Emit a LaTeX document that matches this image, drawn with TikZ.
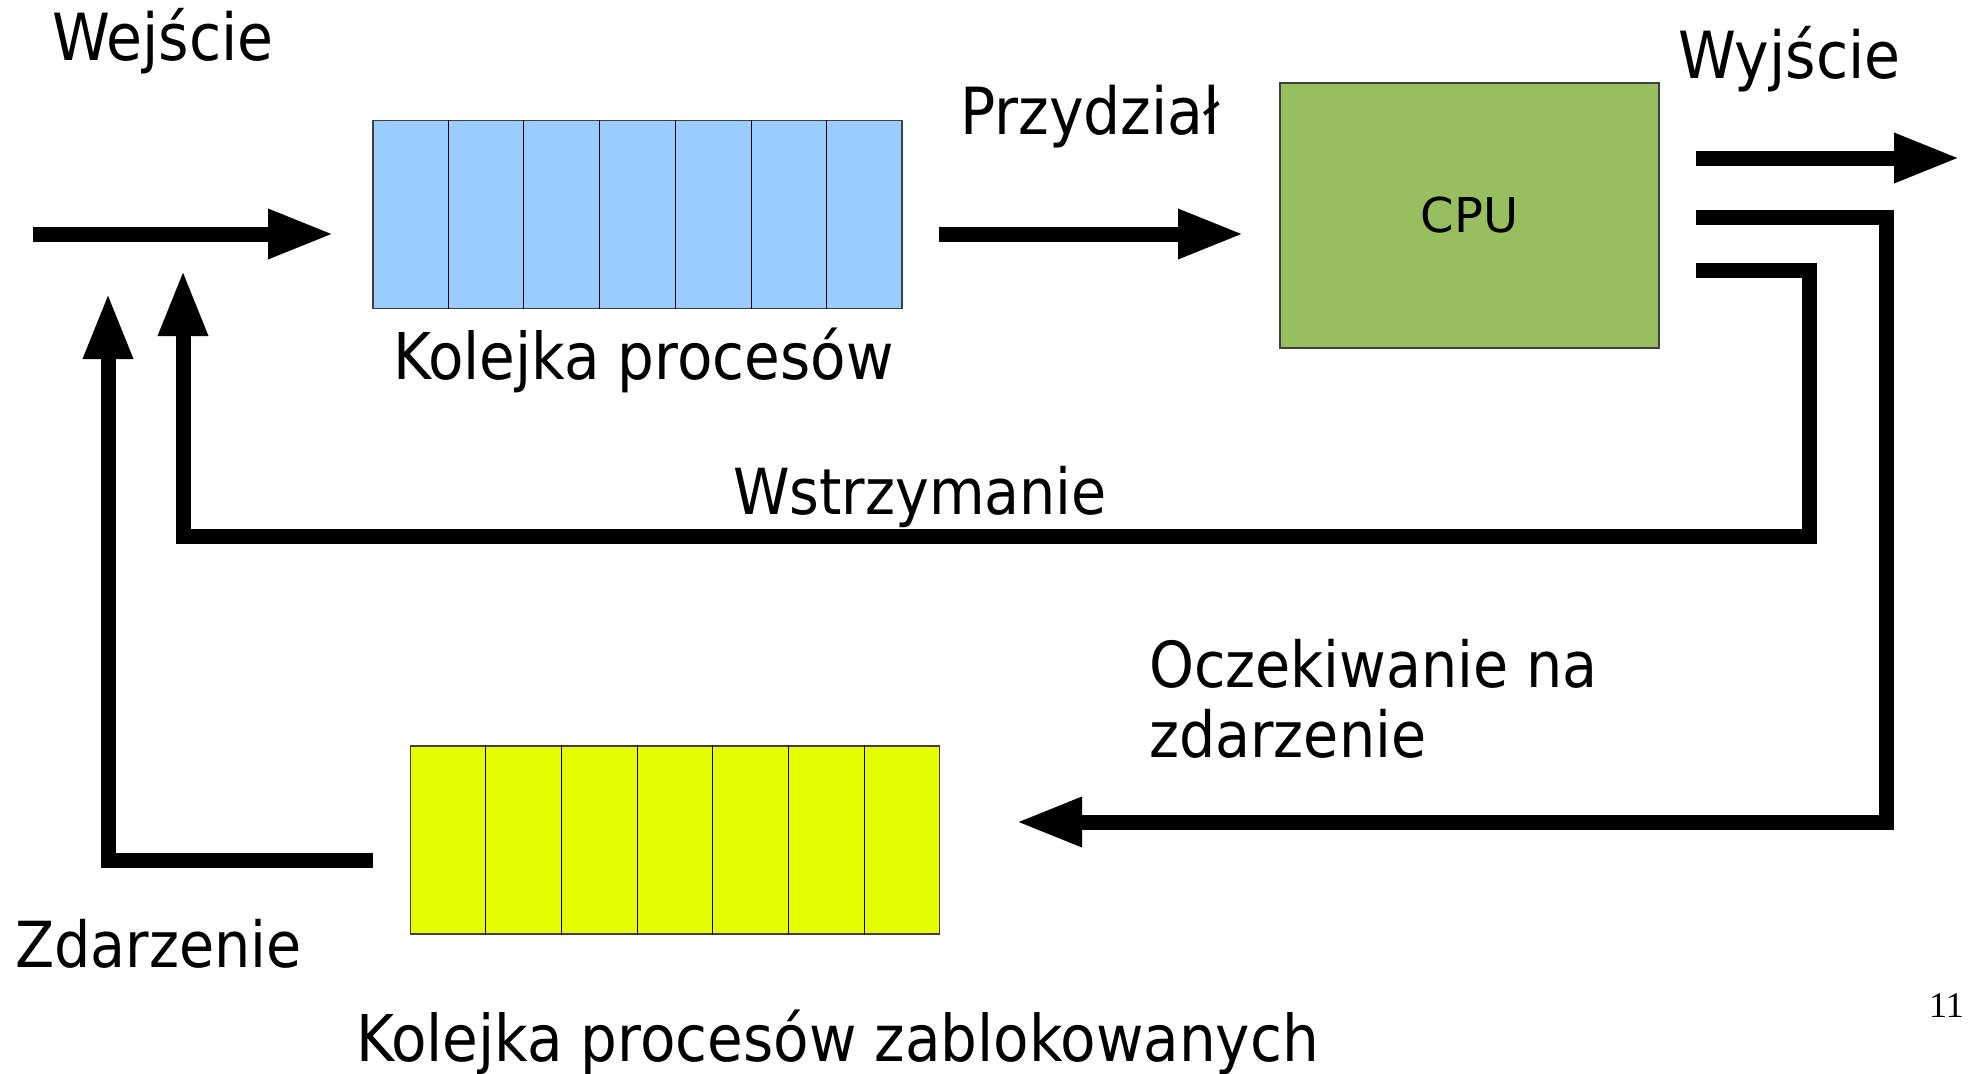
\documentclass[tikz,border=0pt]{standalone}
\usepackage{fontspec}
\setmainfont{DejaVu Sans Condensed}
\newfontfamily\cpufont{DejaVu Sans}
\newfontfamily\pagenumfont{Liberation Serif}
\usetikzlibrary{arrows.meta,calc}
\begin{document}
\begin{tikzpicture}[x=1pt,y=-1pt,
  flow/.style={line width=15pt, line join=miter},
  arr/.style={flow, -{Triangle[length=66pt,width=46pt]}},
  cell/.style={draw=black, line width=1pt},
  queuebox/.style={draw=black!75, line width=1.2pt, minimum width=529pt,
    minimum height=188pt, inner sep=0pt},
  cpubox/.style={draw=black!75, line width=1.2pt, fill=cpugreen,
    minimum width=379pt, minimum height=265pt, inner sep=0pt,
    font=\cpufont\fontsize{48}{58}\selectfont},
  label/.style={inner sep=0pt, anchor=base west,
    font=\fontsize{63.5}{70}\selectfont, align=left},
  biglabel/.style={label, font=\fontsize{65}{70}\selectfont},
  queuelabel/.style={label, font=\fontsize{64.5}{70}\selectfont}
]
\definecolor{queueblue}{HTML}{99CCFF}
\definecolor{queueyellow}{HTML}{E6FF00}
\definecolor{cpugreen}{HTML}{97BE5F}
\useasboundingbox[fill=white] (0,0) rectangle (1969,1073);

% ready queue, seven slots
\node[queuebox, fill=queueblue] (ready) at (637.5,214.75) {};
\foreach \i in {1,...,6}
  \draw[cell] ($(ready.north west)!\i/7!(ready.north east)$) -- ($(ready.south west)!\i/7!(ready.south east)$);

% blocked queue, seven slots
\node[queuebox, fill=queueyellow] (blocked) at (675,840) {};
\foreach \i in {1,...,6}
  \draw[cell] ($(blocked.north west)!\i/7!(blocked.north east)$) -- ($(blocked.south west)!\i/7!(blocked.south east)$);

% processor
\node[cpubox] (cpu) at (1469.5,215.5) {CPU};

% labels
\node[biglabel] (lin)  at (52,60)   {Wejście};
\node[biglabel] (lout) at (1678,78) {Wyjście};
\node[biglabel] (lassign) at (960,134) {Przydział};
\node[queuelabel] (lready) at (393,379)  {Kolejka procesów};
\node[label] (lpause) at (733,514)  {Wstrzymanie};
\node[label] (lwait)  at (1149,757) {Oczekiwanie na\\zdarzenie};
\node[label] (levent) at (15,967)   {Zdarzenie};
\node[queuelabel] (lblocked) at (356,1061) {Kolejka procesów zablokowanych};
\node[inner sep=0pt, anchor=base east, font=\pagenumfont\fontsize{36}{40}\selectfont] (pnum) at (1964,1017) {11};

% connector end points
\coordinate (inS)  at (33,234);
\coordinate (inE)  at (334,234);
\coordinate (asS)  at (939,234);
\coordinate (asE)  at (1244,234);
\coordinate (outS) at (1696,158);
\coordinate (outE) at (1960,158);
\coordinate (waS)  at (1696,217);
\coordinate (waC)  at (1886,822);
\coordinate (waE)  at (1016,822);
\coordinate (paS)  at (1696,270);
\coordinate (paC)  at (1809,536);
\coordinate (paE)  at (183,270);
\coordinate (evS)  at (373,860);
\coordinate (evE)  at (108,293);

% flows
\draw[arr] (inS) -- (inE);
\draw[arr] (asS) -- (asE);
\draw[arr] (outS) -- (outE);
\draw[arr] (waS) -| (waC) -- (waE);
\draw[arr] (paS) -| (paC) -| (paE);
\draw[arr] (evS) -| (evE);
\end{tikzpicture}
\end{document}
